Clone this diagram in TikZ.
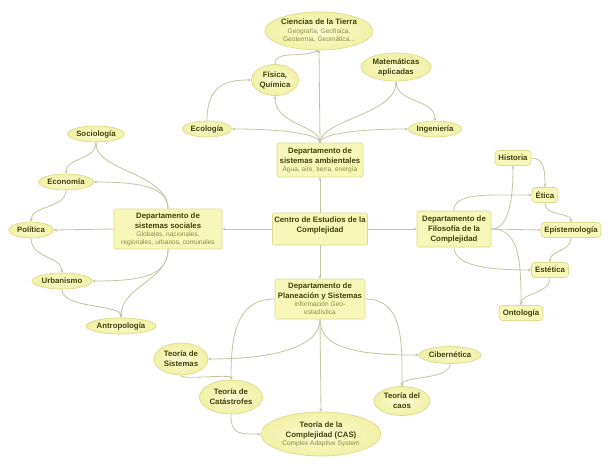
\documentclass[tikz,border=0pt]{standalone}
\usepackage{fontspec}
\setmainfont{Liberation Sans}
\usetikzlibrary{shapes.geometric,arrows.meta}
\definecolor{boxfill}{HTML}{F7F7B9}
\definecolor{ovalin}{HTML}{FBFBD6}
\definecolor{ovalout}{HTML}{F1F1A6}
\definecolor{boxline}{HTML}{DCDC90}
\definecolor{textc}{HTML}{3F4108}
\definecolor{subc}{HTML}{8A8D38}
\definecolor{linkc}{HTML}{C2C6A0}
\newcommand{\subf}{\mdseries\fontsize{6.6}{8}\selectfont\color{subc}}
\tikzset{
  base/.style={draw=boxline, line width=0.7pt, align=center, inner sep=0pt,
    text=textc, font=\bfseries\fontsize{7.8}{10}\selectfont},
  dept/.style={base, rectangle, rounded corners=1.5pt, fill=boxfill},
  oval/.style={base, ellipse, inner sep=-3pt, inner color=ovalin, outer color=ovalout},
  rbox/.style={base, rectangle, rounded corners=3.5pt, fill=boxfill},
  link/.style={draw=linkc, line width=0.8pt, -{Stealth[length=3.2pt,width=3pt]}}
}
\begin{document}
\begin{tikzpicture}[x=1pt,y=-1pt]
\useasboundingbox[fill=white] (0,0) rectangle (610,466);

% top cluster
\node[oval, minimum width=108, minimum height=38] (tierra) at (319,31)
  {Ciencias de la Tierra\\[-1pt]{\subf Geografía, Geofísica,}\\[-2pt]{\subf Geotermia, Geomática...}};
\node[oval, minimum width=47, minimum height=31] (fisica) at (275,80) {Física,\\Química};
\node[oval, minimum width=70, minimum height=28] (mat) at (396,67) {Matemáticas\\aplicadas};
\node[oval, minimum width=49, minimum height=16] (eco) at (207,129) {Ecología};
\node[oval, minimum width=53, minimum height=16] (ing) at (435,129) {Ingeniería};
\node[dept, minimum width=86, minimum height=34] (amb) at (320,160)
  {Departamento de\\sistemas ambientales\\[-2pt]{\subf Agua, aire, tierra, energía}};

% centre
\node[dept, minimum width=95, minimum height=32] (centro) at (320,229) {};
\node[base, draw=none] (centrot) at (320,225) {Centro de Estudios de la\\Complejidad};

% social cluster
\node[dept, minimum width=108, minimum height=40] (social) at (168,229)
  {Departamento de\\sistemas sociales\\[-2pt]{\subf Globales, nacionales,}\\[-2pt]{\subf regionales, urbanos, comunales}};
\node[oval, minimum width=57, minimum height=16] (socio) at (96,134) {Sociología};
\node[oval, minimum width=55, minimum height=16] (econ) at (66,182) {Economía};
\node[oval, minimum width=45, minimum height=16] (pol) at (31,230) {Política};
\node[oval, minimum width=60, minimum height=16] (urb) at (62,281) {Urbanismo};
\node[oval, minimum width=70, minimum height=16] (antro) at (121,326) {Antropología};

% philosophy cluster
\node[dept, minimum width=74, minimum height=36] (filo) at (454,229)
  {Departamento de\\Filosofía de la\\Complejidad};
\node[rbox, minimum width=36, minimum height=15] (hist) at (513,158) {Historia};
\node[rbox, minimum width=26, minimum height=15] (etica) at (545,195) {Ética};
\node[rbox, minimum width=60, minimum height=15] (epist) at (571,230) {Epistemología};
\node[rbox, minimum width=37, minimum height=15] (estet) at (550,270) {Estética};
\node[rbox, minimum width=44, minimum height=15] (onto) at (521,313) {Ontología};

% planning cluster
\node[dept, minimum width=90, minimum height=40] (plan) at (320,299)
  {Departamento de\\Planeación y Sistemas\\[-2pt]{\subf información Geo-}\\[-2pt]{\subf estadística}};
\node[oval, minimum width=54, minimum height=32] (tsist) at (181,359) {Teoría de\\Sistemas};
\node[oval, minimum width=63, minimum height=34] (cat) at (231,397) {Teoría de\\Catástrofes};
\node[oval, minimum width=120, minimum height=44] (cas) at (321,434)
  {Teoría de la\\Complejidad (CAS)\\[-2pt]{\subf Complex Adaptive System}};
\node[oval, minimum width=62, minimum height=17] (cib) at (450,355) {Cibernética};
\node[oval, minimum width=56, minimum height=29] (caos) at (402,401) {Teoría del\\caos};

% top connectors
\draw[link] (amb.north) -- (tierra.south);
\draw[link] (amb.north) .. controls +(0,-18) and +(0,30) .. (fisica.south);
\draw[link] (amb.north) .. controls +(0,-8) and +(55,0) .. (eco.east);
\draw[link] (amb.north) .. controls +(0,-8) and +(-55,0) .. (ing.west);
\draw[link] (amb.north) .. controls +(0,-22) and +(0,32) .. (mat.south);
\draw[link] (eco.north) .. controls +(0,-38) and +(-22,0) .. (fisica.west);
\draw[link] (fisica.north) .. controls +(0,-14) and +(-22,8) .. (tierra.south);
\draw[link] (mat.south) .. controls +(0,22) and +(0,-22) .. (ing.north);

% centre connectors
\draw[link] (centro.north) -- (amb.south);
\draw[link] (centro.south) -- (plan.north);
\draw[link] (centro.west) -- (social.east);
\draw[link] (centro.east) -- (filo.west);

% social connectors
\draw[link] (social.north) .. controls +(0,-35) and +(0,28) .. (socio.south);
\draw[link] (social.north) .. controls +(0,-22) and +(45,0) .. (econ.east);
\draw[link] (socio.south) .. controls +(0,18) and +(0,-16) .. (econ.north);
\draw[link] (econ.south) .. controls +(0,18) and +(0,-16) .. (pol.north);
\draw[link] (social.west) -- (pol.east);
\draw[link] (pol.south) .. controls +(0,20) and +(0,-16) .. (urb.north);
\draw[link] (social.south) .. controls +(0,28) and +(45,0) .. (urb.east);
\draw[link] (social.south) .. controls +(0,32) and +(0,-32) .. (antro.north);
\draw[link] (urb.south) .. controls +(0,20) and +(0,-14) .. (antro.north);

% philosophy connectors
\draw[link] (filo.east) .. controls +(18,0) and +(0,32) .. (hist.south);
\draw[link] (filo.north) .. controls +(0,-18) and +(-45,0) .. (etica.west);
\draw[link] (filo.east) -- (epist.west);
\draw[link] (filo.south) .. controls +(0,18) and +(-45,0) .. (estet.west);
\draw[link] (filo.east) .. controls +(28,0) and +(0,-45) .. (onto.north);
\draw[link] (hist.east) .. controls +(13,0) and +(0,-16) .. (etica.north);
\draw[link] (etica.south) .. controls +(0,14) and +(0,-10) .. (epist.north);
\draw[link] (epist.south) .. controls +(0,14) and +(0,-12) .. (estet.north);
\draw[link] (estet.south) .. controls +(0,16) and +(0,-12) .. (onto.north);

% planning connectors
\draw[link] (plan.south) .. controls +(0,28) and +(65,0) .. (tsist.east);
\draw[link] (plan.west) .. controls +(-38,0) and +(0,-45) .. (cat.north);
\draw[link] (plan.south) -- (cas.north);
\draw[link] (plan.south) .. controls +(0,28) and +(-65,0) .. (cib.west);
\draw[link] (plan.east) .. controls +(38,0) and +(0,-45) .. (caos.north);
\draw[link] (tsist.south) .. controls +(0,5) and +(0,-6) .. (cat.north);
\draw[link] (cat.south) .. controls +(0,20) and +(-22,0) .. (cas.west);
\draw[link] (cib.south) .. controls +(0,16) and +(0,-10) .. (caos.north);
\end{tikzpicture}
\end{document}
